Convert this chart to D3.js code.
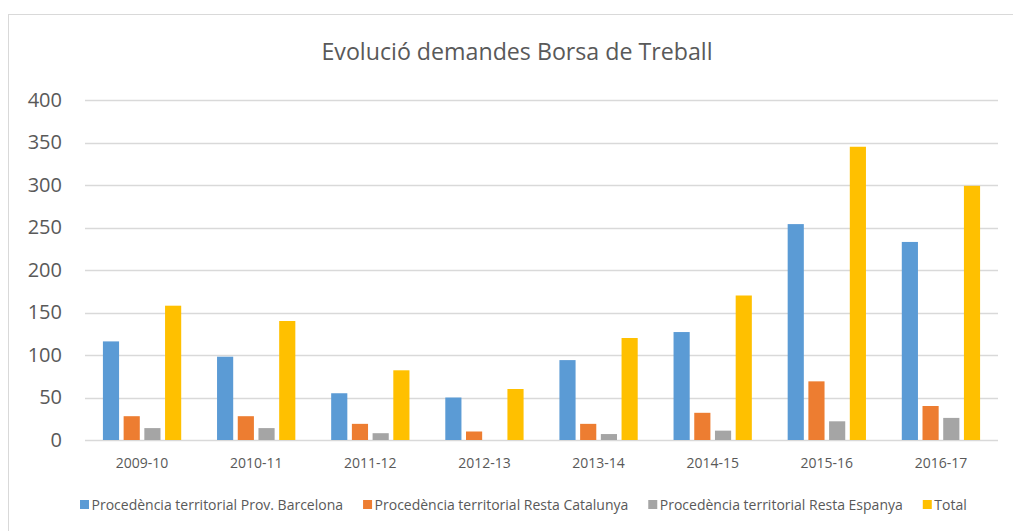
<!DOCTYPE html>
<html><head><meta charset="utf-8">
<script src="https://cdn.jsdelivr.net/npm/d3@7"></script>
<style>body{margin:0;background:#fff}svg{display:block}</style>
</head><body>
<svg id="c" width="1013" height="531"></svg>
<script>
const categories = ["2009-10","2010-11","2011-12","2012-13","2013-14","2014-15","2015-16","2016-17"];
const seriesNames = ["Procedència territorial Prov. Barcelona","Procedència territorial Resta Catalunya","Procedència territorial Resta Espanya","Total"];
const barcelona = [116, 98, 55, 50, 94, 127, 254, 233];
const restaCatalunya = [28, 28, 19, 10, 19, 32, 69, 40];
const restaEspanya = [14, 14, 8, 0, 7, 11, 22, 26];
const total = [158, 140, 82, 60, 120, 170, 345, 299];
const yTicks = [0, 50, 100, 150, 200, 250, 300, 350, 400];
const title = "Evolució demandes Borsa de Treball";

const colors = ["#5B9BD5", "#ED7D31", "#A5A5A5", "#FFC000"];
const seriesValues = [barcelona, restaCatalunya, restaEspanya, total];
const txt = "#595959";

const svg = d3.select("#c");
svg.append("rect").attr("x", 8.5).attr("y", 14.5).attr("width", 1020).attr("height", 540)
  .attr("fill", "#fff").attr("stroke", "#D9D9D9").attr("stroke-width", 1);

const pLeft = 85, pRight = 998, pTop = 100, pBottom = 440;
const x0 = d3.scaleBand().domain(categories).range([pLeft, pRight]).paddingInner(0).paddingOuter(0);
const groupW = x0.bandwidth() * 0.686;
const x1 = d3.scaleBand().domain(d3.range(4)).range([0, groupW]).paddingInner(0.22);
const y = d3.scaleLinear().domain([0, 400]).range([pBottom, pTop]);

svg.append("text").attr("x", 517).attr("y", 60).attr("text-anchor", "middle")
  .attr("font-family", "'Open Sans', sans-serif").attr("font-size", 23.2).attr("fill", txt).text(title);

// grid
svg.append("g").selectAll("line").data(yTicks).join("line")
  .attr("x1", pLeft).attr("x2", pRight)
  .attr("y1", d => Math.round(y(d)) + 0.5).attr("y2", d => Math.round(y(d)) + 0.5)
  .attr("stroke", "#D9D9D9").attr("stroke-width", 1.3);

// y axis labels
const yAxis = d3.axisLeft(y).tickValues(yTicks).tickSize(0).tickPadding(0);
const gy = svg.append("g").attr("transform", `translate(62,0)`).call(yAxis);
gy.select(".domain").remove();
gy.selectAll("text").attr("font-family", "'Open Sans', sans-serif").attr("font-size", 20).attr("fill", txt);

// bars
const groups = svg.append("g").selectAll("g").data(categories).join("g")
  .attr("transform", d => `translate(${x0(d) + (x0.bandwidth() - groupW) / 2},0)`);
groups.selectAll("rect").data((d, i) => seriesValues.map((s, k) => ({k, v: s[i]}))).join("rect")
  .attr("x", d => x1(d.k)).attr("width", x1.bandwidth())
  .attr("y", d => y(d.v)).attr("height", d => pBottom - y(d.v))
  .attr("fill", d => colors[d.k]);

// x axis labels
const xAxis = d3.axisBottom(x0).tickSize(0).tickPadding(0);
const gx = svg.append("g").attr("transform", `translate(0,${pBottom})`).call(xAxis);
gx.select(".domain").remove();
gx.selectAll("text").attr("dy", 0).attr("y", 28).attr("font-family", "'Liberation Sans Narrow', 'Open Sans', sans-serif")
  .attr("font-size", 14).attr("fill", txt);

// legend
const lg = svg.append("g");
let lx = 80;
seriesNames.forEach((n, k) => {
  lg.append("rect").attr("x", lx).attr("y", 500).attr("width", 9).attr("height", 9).attr("fill", colors[k]);
  const t = lg.append("text").attr("x", lx + 11.5).attr("y", 509.5)
    .attr("font-family", "'Liberation Sans Narrow', 'Open Sans', sans-serif").attr("font-size", 14).attr("fill", txt).text(n);
  lx += 11.5 + t.node().getComputedTextLength() + 20;
});
</script>
</body></html>
